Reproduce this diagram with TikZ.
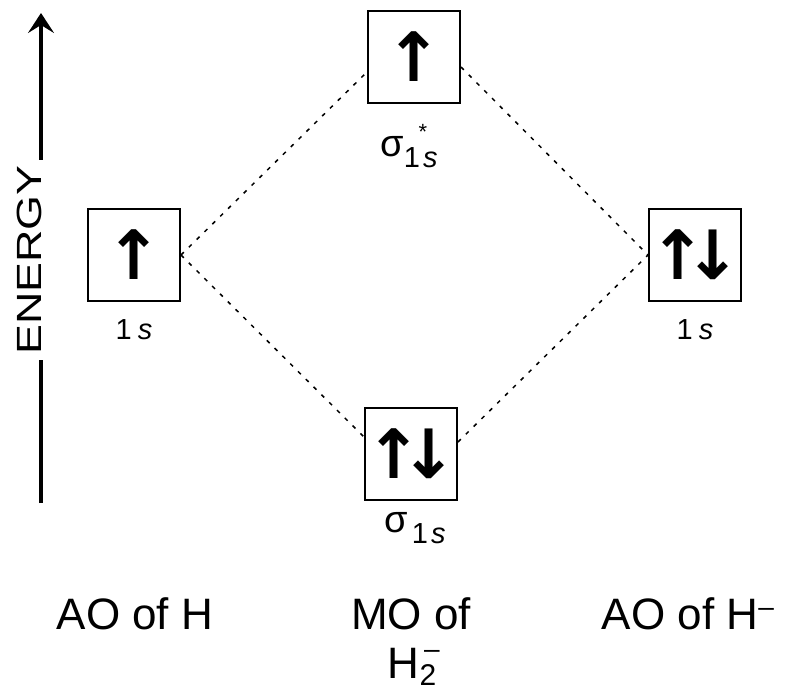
\documentclass[tikz,border=0pt]{standalone}
\usepackage{fontspec}
\setmainfont{Liberation Sans}
\newfontfamily\spinfont{DejaVu Sans}
\usetikzlibrary{arrows.meta,positioning}
\tikzset{
  px/.style={x=1pt,y=-1pt,line width=1pt},
  orbbox/.style={draw,line width=2pt,minimum size=92pt,inner sep=0pt,font=\spinfont\bfseries\fontsize{68}{68}\selectfont},
  lvl/.style={font=\fontsize{29}{29}\selectfont,inner sep=0pt},
  captxt/.style={font=\fontsize{44}{44}\selectfont,inner sep=0pt,anchor=base},
  corr/.style={line width=1.5pt,dash pattern=on 4pt off 7pt},
  axis/.style={line width=3.5pt}
}
\newcommand{\orbsig}[1]{\fontsize{38}{38}\selectfont σ#1\raisebox{-11pt}{\fontsize{29}{29}\selectfont 1\kern3pt\textit{s}}}

\begin{document}
\begin{tikzpicture}[px]
  \useasboundingbox (0,0) rectangle (785,695);
  % energy axis
  \node[captxt,rotate=90,inner xsep=5pt,font=\fontsize{35}{35}\selectfont] (energy) at (41,260) {\scalebox{1.28}[1]{ENERGY}};
  \coordinate (etop) at (41,13);
  \coordinate (ebot) at (41,503);
  \draw[axis] (ebot)--(energy.base west);
  \draw[axis,-{Stealth[length=20pt,width=26pt,inset=8pt]}] (energy.base east)--(etop);
  % orbitals
  \node[orbbox] (aoH) at (134,255) {↑};
  \node[orbbox] (sigst) at (414,57) {↑};
  \node[orbbox] (aoHm) at (695,255) {↑\kern-22pt↓};
  \node[orbbox] (sig) at (411,454) {↑\kern-22pt↓};
  \node[lvl,below=17pt of aoH.south,anchor=north] (aoHl) {1\kern6pt\textit{s}};
  \node[lvl,below=17pt of aoHm.south,anchor=north] (aoHml) {1\kern6pt\textit{s}};
  \node[lvl] (sigstl) at (409,146) {\orbsig{\rlap{\raisebox{17pt}{\fontsize{22}{22}\selectfont\,\,\,\,*}}}};
  \node[lvl] (sigl) at (415,528) {\orbsig{\kern4pt}};
  % correlation lines
  \draw[corr] (aoH.east)--([yshift=-15pt]sigst.west);
  \draw[corr] ([yshift=-10pt]sigst.east)--(aoHm.west);
  \draw[corr] (aoH.east)--([yshift=17pt]sig.west);
  \draw[corr] ([yshift=12pt]sig.east)--(aoHm.west);
  % captions
  \node[captxt] (capH) at (135,629) {AO of H};
  \node[captxt] (capMO) at (411,629) {MO of};
  \node[captxt] (capH2) at (412,678) {H\rlap{\raisebox{20pt}{\fontsize{28}{28}\selectfont\,–}}\raisebox{-7pt}{\fontsize{30}{30}\selectfont 2}};
  \node[captxt] (capHm) at (688,629) {AO of H\raisebox{13pt}{\fontsize{28}{28}\selectfont –}};
\end{tikzpicture}
\end{document}
